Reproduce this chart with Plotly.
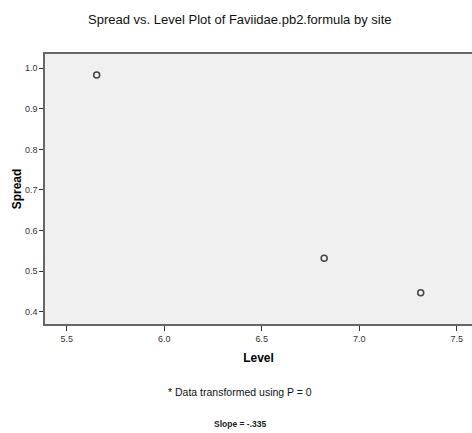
import plotly.graph_objects as go

level = [5.654, 6.82, 7.315]
spread = [0.9835, 0.532, 0.447]
x_ticks = [5.5, 6.0, 6.5, 7.0, 7.5]
x_tick_labels = ["5.5", "6.0", "6.5", "7.0", "7.5"]
y_ticks = [0.4, 0.5, 0.6, 0.7, 0.8, 0.9, 1.0]
y_tick_labels = ["0.4", "0.5", "0.6", "0.7", "0.8", "0.9", "1.0"]

fig = go.Figure()
fig.add_trace(go.Scatter(
    x=level, y=spread, mode="markers",
    marker=dict(symbol="circle-open", size=6, color="#444444", line=dict(width=1.5, color="#444444")),
    showlegend=False, hoverinfo="x+y",
))

axis_font = dict(family="Liberation Sans, Arial, sans-serif", size=9, color="#333333")
fig.update_layout(
    width=472, height=433,
    margin=dict(l=45, r=0, t=54, b=109),
    paper_bgcolor="white",
    plot_bgcolor="#F0F0F0",
    font=dict(family="Liberation Sans, Arial, sans-serif", color="#000000"),
    title=dict(text="Spread vs. Level Plot of Faviidae.pb2.formula by site",
               x=0.508, xanchor="center", y=1 - 19 / 433, yanchor="middle",
               font=dict(size=13, color="#111111")),
    xaxis=dict(range=[5.389, 7.578], tickvals=x_ticks, ticktext=x_tick_labels,
               showgrid=False, zeroline=False, showline=True, linecolor="#666666", linewidth=1.5,
               mirror=True, ticks="outside", ticklen=5, tickcolor="#333333", tickwidth=1,
               tickfont=axis_font,
               title=dict(text="<b>Level</b>", font=dict(size=12), standoff=11)),
    yaxis=dict(range=[0.3697, 1.0352], tickvals=y_ticks, ticktext=y_tick_labels,
               showgrid=False, zeroline=False, showline=True, linecolor="#666666", linewidth=1.5,
               ticks="outside", ticklen=4, tickcolor="#333333", tickwidth=1,
               tickfont=axis_font,
               title=dict(text="<b>Spread</b>", font=dict(size=12), standoff=1)),
    annotations=[
        dict(text="* Data transformed using P = 0", xref="paper", yref="paper",
             x=(240 - 45) / 427, y=-(392 - 324) / 270, xanchor="center", yanchor="middle",
             showarrow=False, font=dict(size=10.5, color="#111111")),
        dict(text="<b>Slope = -.335</b>", xref="paper", yref="paper",
             x=(240 - 45) / 427, y=-(424 - 324) / 270, xanchor="center", yanchor="middle",
             showarrow=False, font=dict(size=8.5, color="#222222")),
    ],
)

fig.write_html("out.html", config={"displayModeBar": False},
               post_script="document.body.style.margin='0';document.body.style.overflow='hidden';")
